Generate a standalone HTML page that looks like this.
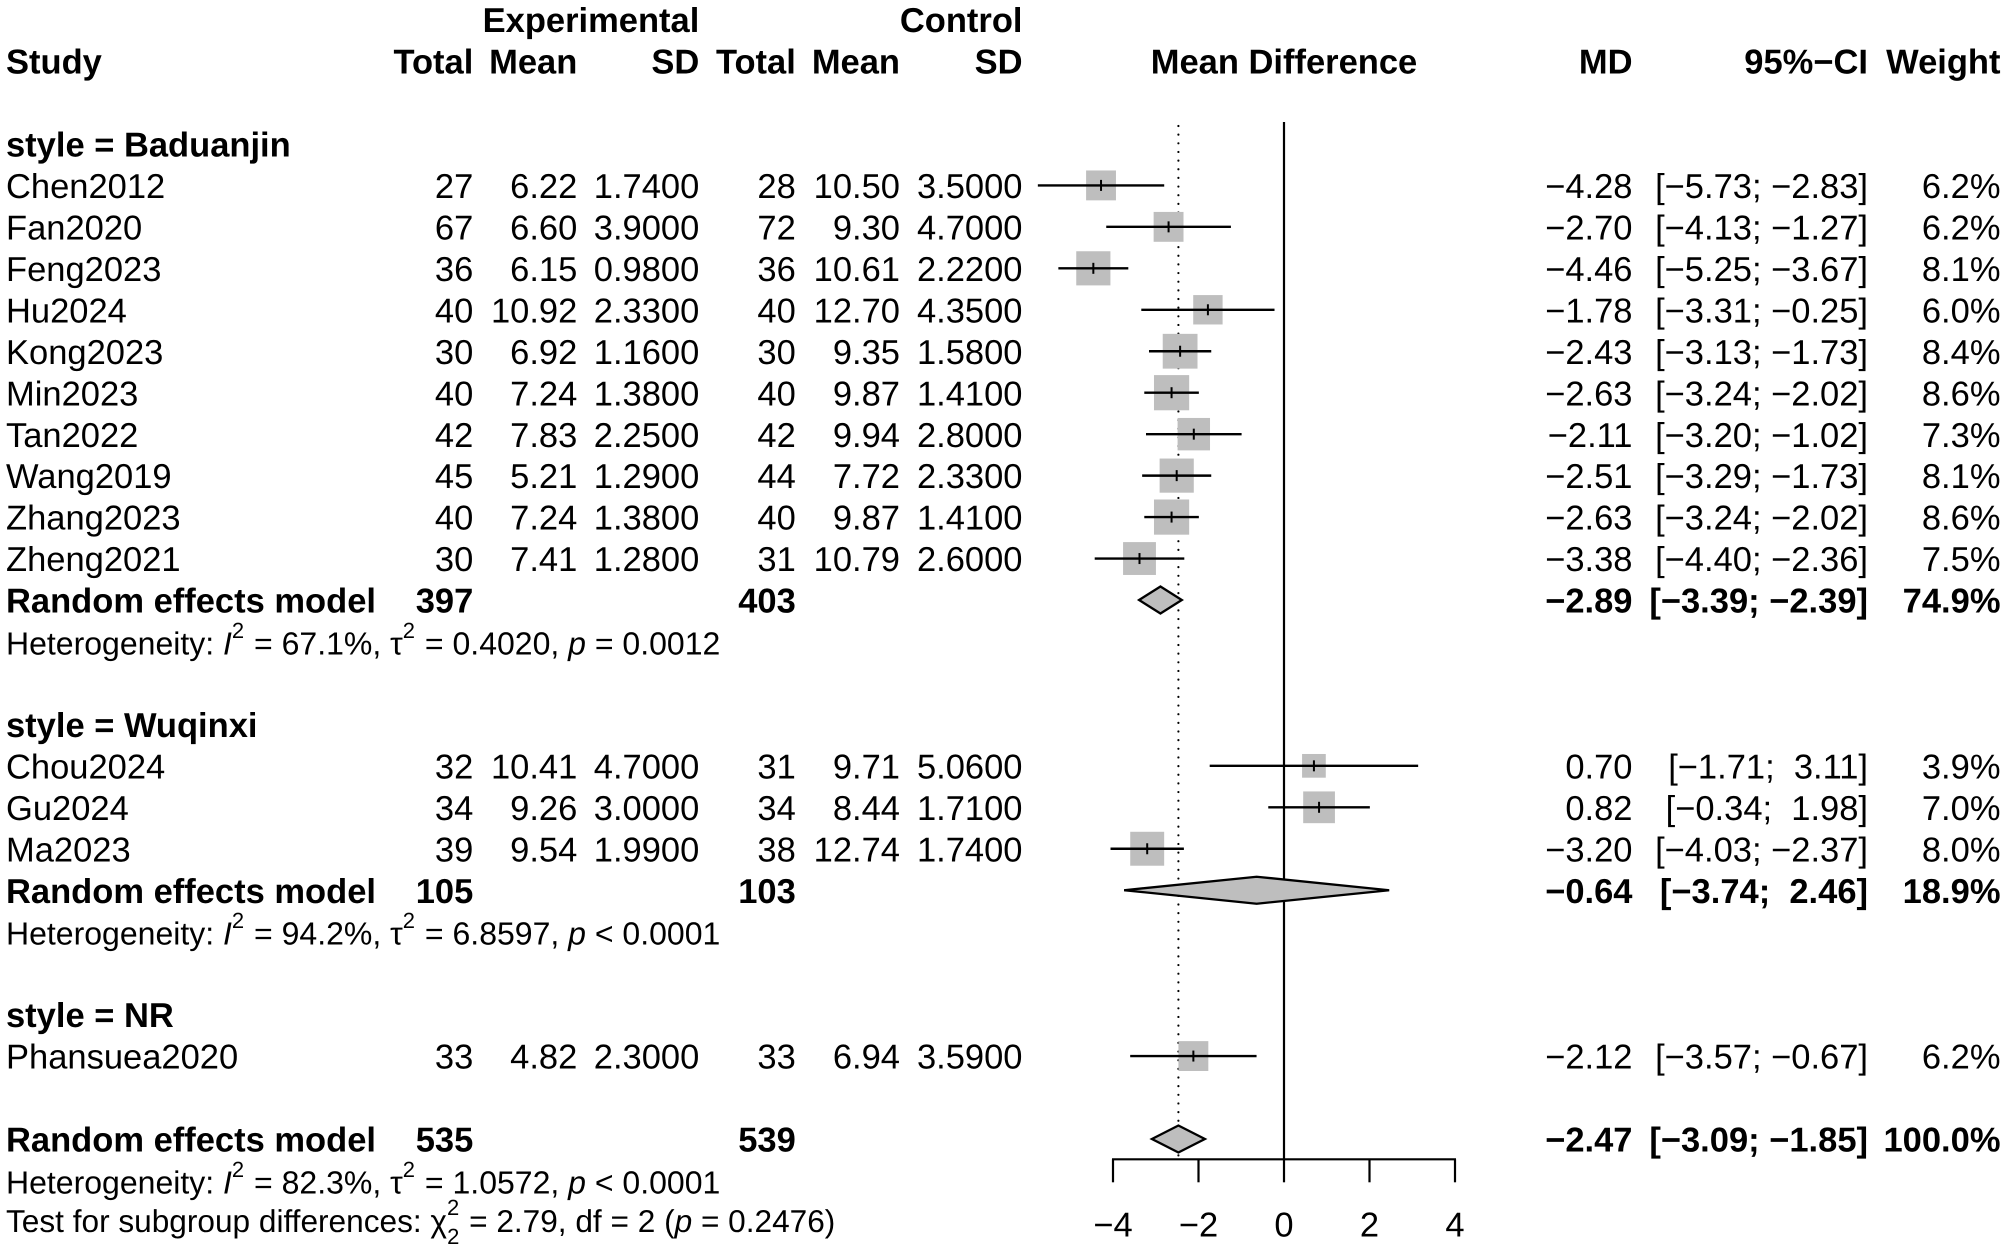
<!DOCTYPE html>
<html lang="en">
<head>
<meta charset="utf-8">
<title>Forest plot</title>
<style>
  html, body { margin: 0; padding: 0; background: #fff; }
  svg { display: block; }
  text { font-family: "Liberation Sans", Arial, sans-serif; fill: #000; white-space: pre; text-rendering: geometricPrecision; }
</style>
</head>
<body>
<svg id="plot" xmlns="http://www.w3.org/2000/svg" width="2008" height="1250" viewBox="0 0 2008 1250">
  <rect x="0" y="0" width="2008" height="1250" fill="#fff"/>
  <g id="refs"></g>
  <g id="marks"></g>
  <g id="axis"></g>
  <g id="labels"></g>
</svg>
<script>
// ---------- data ----------
const studyNames = ['Chen2012','Fan2020','Feng2023','Hu2024','Kong2023','Min2023','Tan2022','Wang2019','Zhang2023','Zheng2021','Chou2024','Gu2024','Ma2023','Phansuea2020'];
const studyGroups = ['Baduanjin','Baduanjin','Baduanjin','Baduanjin','Baduanjin','Baduanjin','Baduanjin','Baduanjin','Baduanjin','Baduanjin','Wuqinxi','Wuqinxi','Wuqinxi','NR'];
const expTotals = [27,67,36,40,30,40,42,45,40,30,32,34,39,33];
const expMeans = [6.22,6.60,6.15,10.92,6.92,7.24,7.83,5.21,7.24,7.41,10.41,9.26,9.54,4.82];
const expSDs = [1.74,3.90,0.98,2.33,1.16,1.38,2.25,1.29,1.38,1.28,4.70,3.00,1.99,2.30];
const ctlTotals = [28,72,36,40,30,40,42,44,40,31,31,34,38,33];
const ctlMeans = [10.50,9.30,10.61,12.70,9.35,9.87,9.94,7.72,9.87,10.79,9.71,8.44,12.74,6.94];
const ctlSDs = [3.50,4.70,2.22,4.35,1.58,1.41,2.80,2.33,1.41,2.60,5.06,1.71,1.74,3.59];
const mdValues = [-4.28,-2.70,-4.46,-1.78,-2.43,-2.63,-2.11,-2.51,-2.63,-3.38,0.70,0.82,-3.20,-2.12];
const ciLower = [-5.73,-4.13,-5.25,-3.31,-3.13,-3.24,-3.20,-3.29,-3.24,-4.40,-1.71,-0.34,-4.03,-3.57];
const ciUpper = [-2.83,-1.27,-3.67,-0.25,-1.73,-2.02,-1.02,-1.73,-2.02,-2.36,3.11,1.98,-2.37,-0.67];
const weights = [6.2,6.2,8.1,6.0,8.4,8.6,7.3,8.1,8.6,7.5,3.9,7.0,8.0,6.2];

const groupNames = ['Baduanjin','Wuqinxi','NR'];
const modelGroups = ['Baduanjin','Wuqinxi','Overall'];
const modelExpTotals = [397,105,535];
const modelCtlTotals = [403,103,539];
const modelMD = [-2.89,-0.64,-2.47];
const modelLower = [-3.39,-3.74,-3.09];
const modelUpper = [-2.39,2.46,-1.85];
const modelWeights = [74.9,18.9,100.0];
const hetI2 = ['67.1','94.2','82.3'];
const hetTau2 = ['0.4020','6.8597','1.0572'];
const hetP = ['= 0.0012','< 0.0001','< 0.0001'];
const testChi2 = '2.79';
const testDf = '2';
const testP = '0.2476';
const axisTicks = [-4,-2,0,2,4];

// ---------- scales ----------
const NS = 'http://www.w3.org/2000/svg';
const FS = 34.5, FS_SMALL = 32, FS_TEST = 31.6;
const xScale = v => 1284 + 42.75 * v;
const rowY = r => 185.4 + 41.46 * r;
const baseline = r => rowY(r) + 12.6;
const AXIS_Y = 1159.3, TOP_Y = 122, TICK_LEN = 23;
const COL = { left: 6, expTotal: 473.3, expMean: 577.3, expSD: 699.3, ctlTotal: 795.8, ctlMean: 900, ctlSD: 1022.5, md: 1632.5, ci: 1868, weight: 2000.5 };

const refs = document.getElementById('refs');
const marks = document.getElementById('marks');
const axisG = document.getElementById('axis');
const labels = document.getElementById('labels');

function fmt(v, d) { return v.toFixed(d).replace('-', '\u2212'); }
function ciText(l, u) {
  return '[' + (l >= 0 ? '  ' : '') + fmt(l, 2) + '; ' + (u >= 0 ? ' ' : '') + fmt(u, 2) + ']';
}

function addText(name, x, y, str, anchor, bold, size) {
  const el = document.createElementNS(NS, 'text');
  
  
  el.setAttribute('x', x);
  el.setAttribute('y', y);
  el.setAttribute('text-anchor', anchor || 'start');
  el.setAttribute('font-size', size || FS);
  if (bold) el.setAttribute('font-weight', 'bold');
  el.textContent = str;
  labels.appendChild(el);
  return el;
}

function addLine(parent, name, x1, y1, x2, y2, width) {
  const el = document.createElementNS(NS, 'line');
  
  
  el.setAttribute('x1', x1);
  el.setAttribute('y1', y1);
  el.setAttribute('x2', x2);
  el.setAttribute('y2', y2);
  el.setAttribute('stroke', '#000');
  el.setAttribute('stroke-width', width || 2);
  parent.appendChild(el);
  return el;
}

function addRich(name, x, y, segs, size) {
  const el = addText(name, x, y, '', 'start', false, size || FS_SMALL);
  let off = 0;
  segs.forEach(s => {
    const t = document.createElementNS(NS, 'tspan');
    const target = s.shift || 0;
    if (target !== off) t.setAttribute('dy', target - off);
    off = target;
    if (s.dx) t.setAttribute('dx', s.dx);
    if (s.italic) t.setAttribute('font-style', 'italic');
    if (s.size) t.setAttribute('font-size', s.size);
    t.textContent = s.t;
    el.appendChild(t);
  });
  return el;
}

function hetLine(i, row) {
  addRich('heterogeneity-statistics', COL.left, rowY(row) + 13, [
    { t: 'Heterogeneity: ' },
    { t: 'I', italic: true },
    { t: '2', shift: -16.5, size: 22 },
    { t: ' = ' + hetI2[i] + '%, \u03C4', dx: 1 },
    { t: '2', shift: -16.5, size: 22 },
    { t: ' = ' + hetTau2[i] + ', ', dx: 1 },
    { t: 'p', italic: true },
    { t: ' ' + hetP[i] }
  ]);
}

function drawStudy(i, row) {
  const y = rowY(row);
  const b = baseline(row);
  addText('study-name', COL.left, b, studyNames[i]);
  addText('experimental-total', COL.expTotal, b, String(expTotals[i]), 'end');
  addText('experimental-mean', COL.expMean, b, expMeans[i].toFixed(2), 'end');
  addText('experimental-sd', COL.expSD, b, expSDs[i].toFixed(4), 'end');
  addText('control-total', COL.ctlTotal, b, String(ctlTotals[i]), 'end');
  addText('control-mean', COL.ctlMean, b, ctlMeans[i].toFixed(2), 'end');
  addText('control-sd', COL.ctlSD, b, ctlSDs[i].toFixed(4), 'end');
  addText('mean-difference-value', COL.md, b, fmt(mdValues[i], 2), 'end');
  addText('confidence-interval', COL.ci, b, ciText(ciLower[i], ciUpper[i]), 'end');
  addText('study-weight', COL.weight, b, weights[i].toFixed(1) + '%', 'end');

  const size = 12 * Math.sqrt(weights[i]);
  const sq = document.createElementNS(NS, 'rect');
  
  
  sq.setAttribute('x', xScale(mdValues[i]) - size / 2);
  sq.setAttribute('y', y - size / 2);
  sq.setAttribute('width', size);
  sq.setAttribute('height', size);
  sq.setAttribute('fill', '#bebebe');
  marks.appendChild(sq);
  const ci = addLine(marks, 'study-ci-line', xScale(ciLower[i]), y, xScale(ciUpper[i]), y, 2.4);
  ci.setAttribute('stroke-linecap', 'square');
  addLine(marks, 'study-point-tick', xScale(mdValues[i]), y - 5.5, xScale(mdValues[i]), y + 5.5, 2);
}

function drawModel(i, row) {
  const y = rowY(row);
  const b = baseline(row);
  addText('model-label', COL.left, b, 'Random effects model', 'start', true);
  addText('model-experimental-total', COL.expTotal, b, String(modelExpTotals[i]), 'end', true);
  addText('model-control-total', COL.ctlTotal, b, String(modelCtlTotals[i]), 'end', true);
  addText('model-mean-difference', COL.md, b, fmt(modelMD[i], 2), 'end', true);
  addText('model-confidence-interval', COL.ci, b, ciText(modelLower[i], modelUpper[i]), 'end', true);
  addText('model-weight', COL.weight, b, modelWeights[i].toFixed(1) + '%', 'end', true);

  const d = document.createElementNS(NS, 'polygon');
  
  
  const pts = [
    [xScale(modelLower[i]), y],
    [xScale(modelMD[i]), y - 13.5],
    [xScale(modelUpper[i]), y],
    [xScale(modelMD[i]), y + 13.5]
  ];
  d.setAttribute('points', pts.map(p => p.join(',')).join(' '));
  d.setAttribute('fill', '#bebebe');
  d.setAttribute('stroke', '#000');
  d.setAttribute('stroke-width', 2.3);
  d.setAttribute('stroke-linejoin', 'miter');
  marks.appendChild(d);
}

// ---------- headers ----------
addText('experimental-group-header', COL.expSD, baseline(-4), 'Experimental', 'end', true);
addText('control-group-header', COL.ctlSD, baseline(-4), 'Control', 'end', true);
const headerRowBase = baseline(-3);
addText('study-header', COL.left, headerRowBase, 'Study', 'start', true);
addText('experimental-total-header', COL.expTotal, headerRowBase, 'Total', 'end', true);
addText('experimental-mean-header', COL.expMean, headerRowBase, 'Mean', 'end', true);
addText('experimental-sd-header', COL.expSD, headerRowBase, 'SD', 'end', true);
addText('control-total-header', COL.ctlTotal, headerRowBase, 'Total', 'end', true);
addText('control-mean-header', COL.ctlMean, headerRowBase, 'Mean', 'end', true);
addText('control-sd-header', COL.ctlSD, headerRowBase, 'SD', 'end', true);
addText('mean-difference-header', xScale(0), headerRowBase, 'Mean Difference', 'middle', true);
addText('md-header', COL.md, headerRowBase, 'MD', 'end', true);
addText('ci-header', COL.ci, headerRowBase, '95%\u2212CI', 'end', true);
addText('weight-header', COL.weight, headerRowBase, 'Weight', 'end', true);

// ---------- reference lines ----------
const overallIndex = modelGroups.indexOf('Overall');
const dotted = addLine(refs, 'overall-effect-dotted-line', xScale(modelMD[overallIndex]), TOP_Y + 4, xScale(modelMD[overallIndex]), AXIS_Y, 2.2);
dotted.setAttribute('stroke-dasharray', '0 8.65');
dotted.setAttribute('stroke-linecap', 'round');
addLine(refs, 'no-effect-line', xScale(0), TOP_Y, xScale(0), AXIS_Y, 2.2);

// ---------- rows ----------
let row = -1;
groupNames.forEach(g => {
  addText('subgroup-label', COL.left, baseline(row), 'style = ' + g, 'start', true);
  row++;
  studyNames.forEach((n, i) => {
    if (studyGroups[i] === g) { drawStudy(i, row); row++; }
  });
  const m = modelGroups.indexOf(g);
  if (m >= 0) {
    drawModel(m, row); row++;
    hetLine(m, row); row++;
  }
  row++;
});
drawModel(overallIndex, row); row++;
hetLine(overallIndex, row); row++;

addRich('subgroup-differences-test', COL.left, rowY(row) + 10, [
  { t: 'Test for subgroup differences: ' },
  { t: '\u03C7' },
  { t: '2', shift: -17, size: 22 },
  { t: testDf, shift: 12, size: 22, dx: -12.2 },
  { t: ' = ' + testChi2 + ', df = ' + testDf + ' (', dx: 1 },
  { t: 'p', italic: true },
  { t: ' = ' + testP + ')' }
], FS_TEST);

// ---------- axis ----------
addLine(axisG, 'x-axis-line', xScale(axisTicks[0]) - 1, AXIS_Y, xScale(axisTicks[axisTicks.length - 1]) + 1, AXIS_Y, 2.2);
axisTicks.forEach(t => {
  addLine(axisG, 'x-axis-tick', xScale(t), AXIS_Y, xScale(t), AXIS_Y + TICK_LEN, 2.2);
  addText('x-axis-tick-label', xScale(t), AXIS_Y + 77, fmt(t, 0), 'middle');
});
</script>
</body>
</html>
